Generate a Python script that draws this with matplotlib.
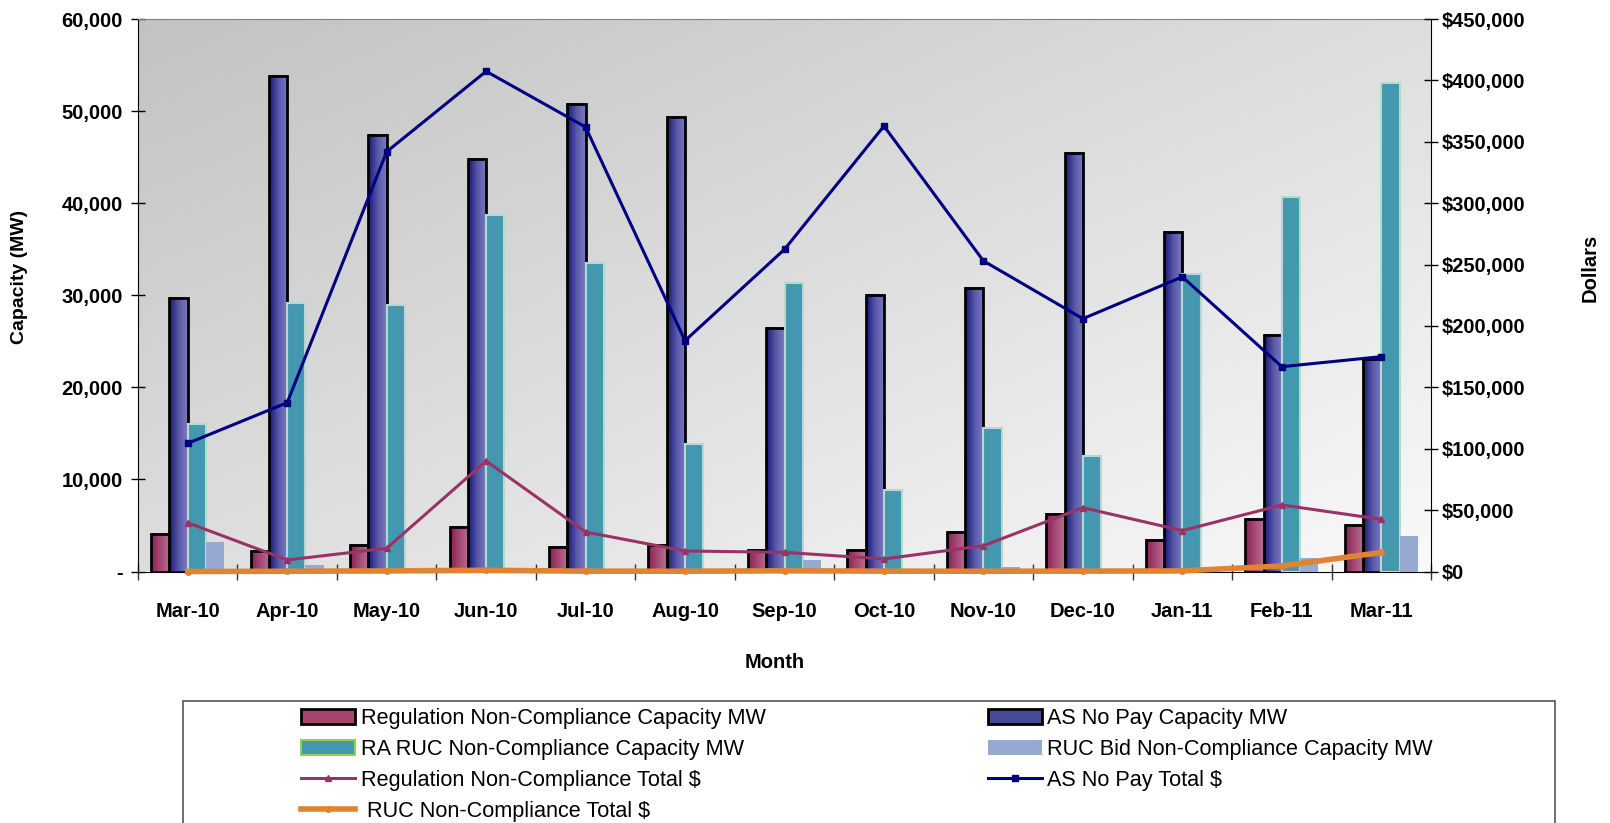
import numpy as np
import matplotlib
matplotlib.use("Agg")
import matplotlib.pyplot as plt
from matplotlib.colors import LinearSegmentedColormap
from matplotlib.patches import Patch, Rectangle
from matplotlib.lines import Line2D
from matplotlib.ticker import FuncFormatter

months = ["Mar-10", "Apr-10", "May-10", "Jun-10", "Jul-10", "Aug-10", "Sep-10",
          "Oct-10", "Nov-10", "Dec-10", "Jan-11", "Feb-11", "Mar-11"]
reg_mw = [4040, 2230, 2900, 4840, 2700, 2880, 2340, 2340, 4330, 6250, 3420, 5670, 5050]
as_mw = [29650, 53800, 47400, 44800, 50800, 49400, 26400, 30000, 30800, 45450, 36900, 25700, 23100]
ra_ruc_mw = [16000, 29150, 28900, 38750, 33500, 13800, 31300, 8860, 15560, 12500, 32300, 40700, 53100]
ruc_bid_mw = [3240, 670, 0, 0, 0, 0, 1250, 0, 520, 0, 0, 1500, 3850]
reg_total = [39700, 9400, 18900, 90000, 32200, 16700, 15600, 10200, 21000, 52000, 33300, 54200, 42500]
as_total = [104400, 137500, 341900, 407400, 362000, 188000, 262400, 362800, 253000, 205900, 240000, 166800, 175000]
ruc_total = [0, 200, 500, 1000, 300, 200, 600, 300, 200, 300, 500, 4500, 15500]

FONT = ['Liberation Sans', 'DejaVu Sans']

W, H = 1610, 823
fig = plt.figure(figsize=(W / 100, H / 100), dpi=100)
L, R, T, B = 138, 1431, 19, 571.5
ax = fig.add_axes([L / W, 1 - B / H, (R - L) / W, (B - T) / H])
ax2 = ax.twinx()

# background gradient
nx, ny = 200, 200
xx, yy = np.meshgrid(np.linspace(0, 1, nx), np.linspace(0, 1, ny))
t = (xx + (1 - yy)) / 2
bg = 0.76 + (0.975 - 0.76) * t
ax.imshow(bg, extent=[0, 1, 0, 1], transform=ax.transAxes, cmap='gray', vmin=0, vmax=1,
          aspect='auto', origin='lower', zorder=0, interpolation='bilinear')

x = np.arange(len(months))
bw = 0.184


def grad_bars(xpos, h, colors, edge, lw, z):
    bars = ax.bar(xpos, h, bw, color='none', edgecolor=edge, linewidth=lw, zorder=z + 1)
    cmap = LinearSegmentedColormap.from_list('g', colors)
    grad = np.linspace(0, 1, 64).reshape(1, -1)
    for r in bars:
        x0, y0, ww, hh = r.get_x(), r.get_y(), r.get_width(), r.get_height()
        if hh <= 0:
            continue
        ax.imshow(grad, extent=[x0, x0 + ww, y0, y0 + hh], aspect='auto', cmap=cmap,
                  origin='lower', zorder=z, interpolation='bilinear')
    return bars


grad_bars(x - 1.5 * bw, reg_mw, ['#8a1f50', '#a44a76', '#bb6d92'], 'black', 2.0, 2)
grad_bars(x - 0.5 * bw, as_mw, ['#16167a', '#5858a6', '#7b7bc3'], 'black', 2.0, 2)
ax.bar(x + 0.5 * bw, ra_ruc_mw, bw, color='#4398b0', edgecolor='#b5d8d0', linewidth=1.5, zorder=3)
ax.bar(x + 1.5 * bw, ruc_bid_mw, bw, color='#95a9d1', edgecolor='none', zorder=3)

ax.set_xlim(-0.5, len(months) - 0.5)
ax.set_ylim(0, 60000)
ax2.set_ylim(0, 450000)

ax2.plot(x, reg_total, color='#993366', lw=2.2, marker='^', ms=5, zorder=4)
ax2.plot(x, as_total, color='#000080', lw=2.2, marker='s', ms=4, zorder=4)
ax2.plot(x, ruc_total, color='#e08332', lw=4, marker='o', ms=4, zorder=5, clip_on=False)

# ticks
ax.set_xticks(np.arange(-0.5, len(months), 1))
ax.set_xticklabels([])
ax.set_xticks(x, minor=True)
ax.set_xticklabels(months, minor=True)
ax.tick_params(axis='x', which='major', direction='inout', length=12, width=1, color='#333333')
ax.tick_params(axis='x', which='minor', length=0, pad=22)
ax.set_yticks(np.arange(0, 60001, 10000))
ax.yaxis.set_major_formatter(FuncFormatter(lambda v, p: '-' if v == 0 else f'{int(v):,}'))
ax.tick_params(axis='y', direction='inout', length=10, width=1, pad=6)
ax2.set_yticks(np.arange(0, 450001, 50000))
ax2.yaxis.set_major_formatter(FuncFormatter(lambda v, p: f'${int(v):,}'))
ax2.tick_params(axis='y', direction='inout', length=10, width=1, pad=3)

for a in (ax, ax2):
    for lab in a.get_xticklabels(which='both') + a.get_yticklabels():
        lab.set_family(FONT)
        lab.set_fontsize(14.5)
        lab.set_fontweight('bold')

ax.spines['top'].set_color('#808080')
ax.spines['right'].set_visible(False)
for s in ('top', 'left', 'bottom'):
    ax2.spines[s].set_visible(False)
ax2.spines['right'].set_color('black')

fig.text(20 / W, 1 - 277 / H, 'Capacity (MW)', rotation=90, ha='center', va='center',
         family=FONT, fontsize=14, fontweight='bold')
fig.text(1590 / W, 1 - 268 / H, 'Dollars', rotation=90, ha='center', va='center',
         family=FONT, fontsize=14.5, fontweight='bold')
fig.text(775 / W, 1 - 662 / H, 'Month', ha='center', va='center',
         family=FONT, fontsize=14.5, fontweight='bold')

# legend
fig.add_artist(Rectangle((183 / W, -0.05), (1555 - 183) / W, 0.05 + 1 - 701 / H,
                         transform=fig.transFigure, fill=False, edgecolor='#555555', lw=1.2))
handles = [
    Patch(facecolor='#a8456f', edgecolor='black', lw=2),
    Patch(facecolor='#4398b0', edgecolor='#92d050', lw=1.5),
    Line2D([], [], color='#993366', lw=2.2, marker='^', ms=5),
    Line2D([], [], color='#e08332', lw=4, marker='o', ms=4),
    Patch(facecolor='#4a4a9c', edgecolor='black', lw=2),
    Patch(facecolor='#95a9d1', edgecolor='none'),
    Line2D([], [], color='#000080', lw=2.2, marker='s', ms=4),
]
labels = ['Regulation Non-Compliance Capacity MW', 'RA RUC Non-Compliance Capacity MW',
          'Regulation Non-Compliance Total $', ' RUC Non-Compliance Total $',
          'AS No Pay Capacity MW', 'RUC Bid Non-Compliance Capacity MW', 'AS No Pay Total $']
leg = fig.legend(handles, labels, ncol=2, loc='upper left', bbox_to_anchor=(301 / W, 1 - 708 / H),
                 frameon=False, borderpad=0, borderaxespad=0, handlelength=2.5, handletextpad=0.25,
                 labelspacing=0.46, columnspacing=10.25, prop={'family': FONT, 'size': 15.6})

fig.savefig('out.png', dpi=100)
